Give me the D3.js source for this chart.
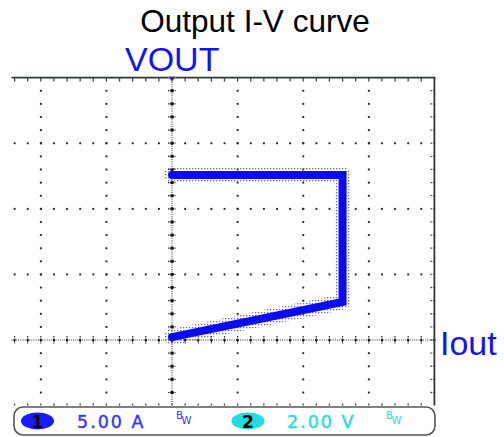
<!DOCTYPE html>
<html><head><meta charset="utf-8">
<script src="https://cdn.jsdelivr.net/npm/d3@7"></script>
<style>
html,body{margin:0;padding:0;background:#fff;}
svg{display:block;}
</style></head>
<body>
<svg id="c" width="504" height="437"></svg>
<script>
// ---- data ----
const title = "Output I-V curve";
const yLabel = "VOUT";
const xLabel = "Iout";
// Trace points: current (A), voltage (V)
const traceCurrent = [0, 13.0, 13.0, 0.0];
const traceVoltage = [5.03, 5.03, 1.16, 0.09];
// scope settings
const ch1Label = "1", ch1Scale = "5.00 A";
const ch2Label = "2", ch2Scale = "2.00 V";
const ampsPerDiv = 5, voltsPerDiv = 2;
const xDivs = [-2, -1, 0, 1, 2, 3, 4];
const yDivs = [-1, 0, 1, 2, 3, 4];

const svg = d3.select("#c");
const x = d3.scaleLinear().domain([-2 * ampsPerDiv, 4 * ampsPerDiv]).range([40.8, 434.4]);
const y = d3.scaleLinear().domain([-1 * voltsPerDiv, 4 * voltsPerDiv]).range([405.6, 77.6]);
const xLeft = x.invert(11.5);
const xMin = x.domain()[0], xMax = x.domain()[1];
const yMin = y.domain()[0], yMax = y.domain()[1];
const minorX = ampsPerDiv / 5, minorY = voltsPerDiv / 5;

const defs = svg.append("defs");
const pat = defs.append("pattern").attr("id", "dots").attr("patternUnits", "userSpaceOnUse")
  .attr("width", 3).attr("height", 3);
pat.append("rect").attr("width", 1.3).attr("height", 1.3).attr("fill", "#6a6f9a");

const gridCol = "#222";
const g = svg.append("g");

const xMinor = d3.range(Math.ceil(xLeft / minorX) * minorX, xMax + 1e-6, minorX);
const yMinor = d3.range(yMin, yMax + 1e-6, minorY);

xDivs.filter(d => d !== 0 && d !== 4).forEach(d => {
  const xv = x(d * ampsPerDiv);
  g.selectAll(null).data(yMinor.filter(v => v > yMin + 1e-6 && v < yMax - 1e-6)).enter().append("rect")
    .attr("x", xv - 0.9).attr("y", v => y(v) - 0.9).attr("width", 1.9).attr("height", 1.9).attr("fill", gridCol);
});
yDivs.filter(d => d !== 0 && d !== 4 && d !== -1).forEach(d => {
  const yv = y(d * voltsPerDiv);
  g.selectAll(null).data(xMinor.filter(v => v < xMax - 1e-6)).enter().append("rect")
    .attr("x", v => x(v) - 0.9).attr("y", yv - 0.9).attr("width", 1.9).attr("height", 1.9).attr("fill", gridCol);
});

// center axes
g.append("line").attr("x1", x(xLeft)).attr("x2", x(xMax)).attr("y1", y(0)).attr("y2", y(0))
  .attr("stroke", "#333").attr("stroke-width", 1).attr("stroke-dasharray", "1,1.2");
g.append("line").attr("x1", x(0)).attr("x2", x(0)).attr("y1", y(yMax)).attr("y2", y(yMin))
  .attr("stroke", "#333").attr("stroke-width", 1).attr("stroke-dasharray", "1,1.2");
g.selectAll(null).data(xMinor).enter().append("line")
  .attr("x1", v => x(v)).attr("x2", v => x(v)).attr("y1", y(0) - 4).attr("y2", y(0) + 4)
  .attr("stroke", "#222").attr("stroke-width", 1.2).attr("stroke-dasharray", "1.5,1");
g.selectAll(null).data(xMinor).enter().append("rect")
  .attr("x", v => x(v) - 1).attr("y", y(0) - 1).attr("width", 2).attr("height", 2).attr("fill", "#111");
g.selectAll(null).data(yMinor.filter(v => v > yMin && v < yMax)).enter().append("line")
  .attr("x1", x(0) - 4).attr("x2", x(0) + 4).attr("y1", v => y(v)).attr("y2", v => y(v))
  .attr("stroke", "#222").attr("stroke-width", 1.2).attr("stroke-dasharray", "1.5,1");
g.selectAll(null).data(yMinor.filter(v => v > yMin && v < yMax)).enter().append("rect")
  .attr("x", x(0) - 1.5).attr("y", v => y(v) - 1.5).attr("width", 3).attr("height", 3).attr("fill", "#111");

// frame
g.append("line").attr("x1", x(xLeft)).attr("x2", x(xMax) + 1).attr("y1", y(yMax)).attr("y2", y(yMax))
  .attr("stroke", "#2e3a3a").attr("stroke-width", 1.8);
g.append("line").attr("x1", x(xMax)).attr("x2", x(xMax)).attr("y1", y(yMax)).attr("y2", y(yMin))
  .attr("stroke", "#2e3a3a").attr("stroke-width", 1.8);
g.selectAll(null).data(xMinor.filter(v => v < xMax - 1e-6)).enter().append("line")
  .attr("x1", v => x(v)).attr("x2", v => x(v)).attr("y1", y(yMax)).attr("y2", y(yMax) + 4)
  .attr("stroke", "#444").attr("stroke-width", 1.3);
g.selectAll(null).data(xMinor.filter(v => v < xMax - 1e-6)).enter().append("line")
  .attr("x1", v => x(v)).attr("x2", v => x(v)).attr("y1", y(yMin) - 2).attr("y2", y(yMin))
  .attr("stroke", "#444").attr("stroke-width", 1.3);
g.selectAll(null).data(yMinor.filter(v => v > yMin && v < yMax)).enter().append("line")
  .attr("x1", x(xMax) - 4).attr("x2", x(xMax)).attr("y1", v => y(v)).attr("y2", v => y(v))
  .attr("stroke", "#444").attr("stroke-width", 1.3).attr("stroke-dasharray", "1.5,1");

// trace
const pts = traceCurrent.map((c, i) => [c, traceVoltage[i]]);
const line = d3.line().x(d => x(d[0])).y(d => y(d[1]));
svg.append("path").attr("d", line(pts)).attr("fill", "none")
  .attr("stroke", "url(#dots)").attr("stroke-width", 16).attr("stroke-linejoin", "round").attr("stroke-linecap", "round");
svg.append("path").attr("d", line(pts)).attr("fill", "none")
  .attr("stroke", "#0a0af5").attr("stroke-width", 8).attr("stroke-linejoin", "miter").attr("stroke-linecap", "round");

// ground marker
svg.append("path").attr("d", `M${x(0) - 4},${y(yMax) - 1} L${x(0) + 4},${y(yMax) - 1} L${x(0)},${y(yMax) + 4} Z`)
  .attr("fill", "#1a1aff").attr("stroke", "#c8b84a").attr("stroke-width", 0.8);

// texts
svg.append("text").attr("x", 255).attr("y", 32).attr("text-anchor", "middle")
  .attr("font-family", "Liberation Sans, Arial, sans-serif").attr("font-size", 31.5).attr("fill", "#000").text(title);
svg.append("text").attr("x", 125).attr("y", 71)
  .attr("font-family", "Liberation Sans, Arial, sans-serif").attr("font-size", 34).attr("fill", "#1414f0").text(yLabel);
svg.append("text").attr("x", 440).attr("y", 355)
  .attr("font-family", "Liberation Sans, Arial, sans-serif").attr("font-size", 34).attr("fill", "#1414f0").text(xLabel);

// status bar
const sb = svg.append("g");
sb.append("rect").attr("x", 14).attr("y", 407).attr("width", 421).attr("height", 28).attr("rx", 9).attr("ry", 9)
  .attr("fill", "#fff").attr("stroke", "#555").attr("stroke-width", 1.6);
sb.append("ellipse").attr("cx", 37.5).attr("cy", 421).attr("rx", 16.5).attr("ry", 8.5).attr("fill", "#1a1aff");
sb.append("text").attr("x", 37.5).attr("y", 427.5).attr("text-anchor", "middle")
  .attr("font-family", "DejaVu Sans, sans-serif").attr("font-weight", "bold").attr("font-size", 17).attr("fill", "#000").text(ch1Label);
sb.append("text").attr("x", 77).attr("y", 428)
  .attr("font-family", "DejaVu Sans, sans-serif").attr("font-size", 17.5).attr("letter-spacing", 2)
  .attr("stroke", "#3535ff").attr("stroke-width", 0.4)
  .attr("fill", "#3535ff").text(ch1Scale);
function bw(xp, col) {
  const t = sb.append("text").attr("x", xp).attr("y", 419).attr("font-family", "DejaVu Sans, sans-serif")
    .attr("font-size", 10).attr("fill", col);
  t.append("tspan").text("B");
  t.append("tspan").attr("dy", 5).attr("dx", -1).text("W");
}
bw(176, "#3535ff");
sb.append("ellipse").attr("cx", 248).attr("cy", 421).attr("rx", 16.5).attr("ry", 8.5).attr("fill", "#22dddd");
sb.append("text").attr("x", 248).attr("y", 427.5).attr("text-anchor", "middle")
  .attr("font-family", "DejaVu Sans, sans-serif").attr("font-weight", "bold").attr("font-size", 17).attr("fill", "#000").text(ch2Label);
sb.append("text").attr("x", 287).attr("y", 428)
  .attr("font-family", "DejaVu Sans, sans-serif").attr("font-size", 17.5).attr("letter-spacing", 2)
  .attr("stroke", "#22dddd").attr("stroke-width", 0.4)
  .attr("fill", "#22dddd").text(ch2Scale);
bw(386, "#22dddd");
</script>
</body></html>
